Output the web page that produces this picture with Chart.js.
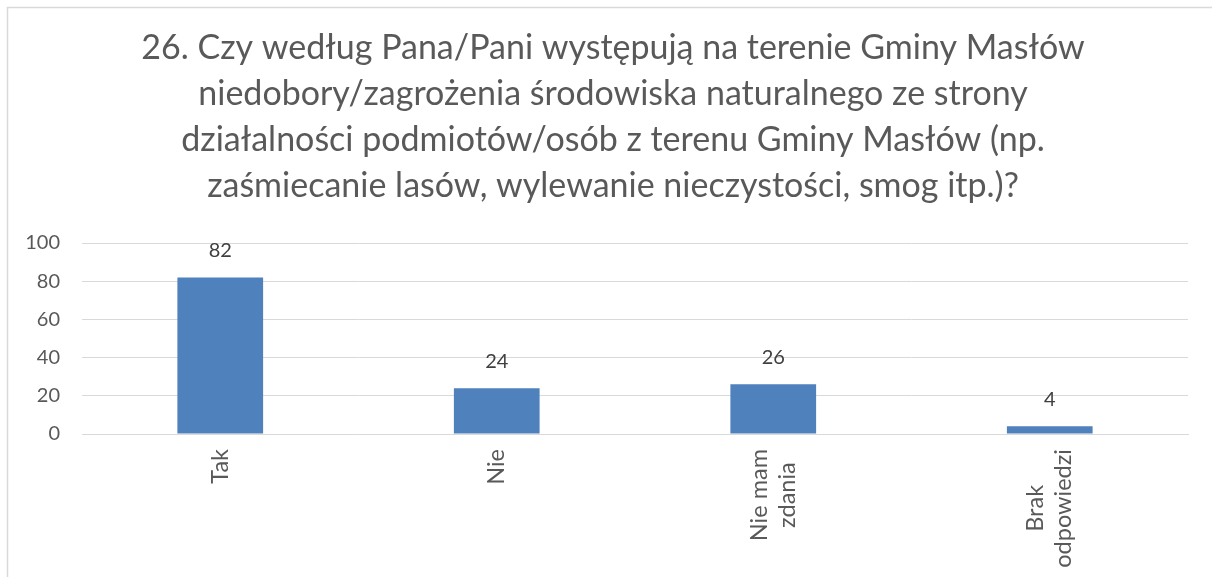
<!DOCTYPE html>
<html>
<head>
<meta charset="utf-8">
<script src="https://cdn.jsdelivr.net/npm/chart.js@4.4.0/dist/chart.umd.min.js"></script>
<style>
  html, body { margin: 0; padding: 0; background: #ffffff; }
  #wrap { position: relative; width: 1212px; height: 577px; }
</style>
</head>
<body>
<div id="wrap"><canvas id="c"></canvas></div>
<script>
const titleLines = [
  "26. Czy według Pana/Pani występują na terenie Gminy Masłów",
  "niedobory/zagrożenia środowiska naturalnego ze strony",
  "działalności podmiotów/osób z terenu Gminy Masłów (np.",
  "zaśmiecanie lasów, wylewanie nieczystości, smog itp.)?"
];
const categories = [["Tak"], ["Nie"], ["Nie mam", "zdania"], ["Brak", "odpowiedzi"]];
const values = [82, 24, 26, 4];
const yTicks = [0, 20, 40, 60, 80, 100];

const FONT = "Lato, 'Open Sans', sans-serif";

const decorPlugin = {
  id: 'decor',
  beforeDraw(chart) {
    const ctx = chart.ctx;
    ctx.save();
    ctx.strokeStyle = '#d9d9d9';
    ctx.lineWidth = 1.5;
    ctx.beginPath();
    ctx.moveTo(7.5, 700);
    ctx.lineTo(7.5, 7.5);
    ctx.lineTo(1300, 7.5);
    ctx.stroke();
    ctx.restore();
  },
  afterDatasetsDraw(chart) {
    const ctx = chart.ctx;
    const meta = chart.getDatasetMeta(0);
    const xScale = chart.scales.x;
    ctx.save();
    // data labels
    ctx.fillStyle = '#404040';
    ctx.font = "20px " + FONT;
    ctx.textAlign = 'center';
    ctx.textBaseline = 'bottom';
    meta.data.forEach((bar, i) => {
      ctx.fillText(String(values[i]), bar.x, bar.y - 17);
    });
    // category labels, rotated, centred lines
    ctx.fillStyle = '#595959';
    ctx.font = "23.5px " + FONT;
    const lh = 28;
    categories.forEach((lines, i) => {
      const x = xScale.getPixelForValue(i);
      const widths = lines.map(l => ctx.measureText(l).width);
      const maxW = Math.max(...widths);
      const topY = chart.chartArea.bottom + 15;
      ctx.save();
      ctx.translate(x, topY + maxW / 2);
      ctx.rotate(-Math.PI / 2);
      ctx.textAlign = 'center';
      ctx.textBaseline = 'middle';
      const n = lines.length;
      lines.forEach((l, k) => {
        const off = (k - (n - 1) / 2) * lh;
        ctx.fillText(l, 0, off);
      });
      ctx.restore();
    });
    ctx.restore();
  }
};

new Chart(document.getElementById('c'), {
  type: 'bar',
  data: {
    labels: categories,
    datasets: [{
      data: values,
      backgroundColor: '#4f81bd',
      borderWidth: 0,
      categoryPercentage: 1.0,
      barPercentage: 0.31
    }]
  },
  options: {
    responsive: true,
    maintainAspectRatio: false,
    animation: false,
    layout: { padding: { left: 14, right: 0, top: 0, bottom: 0 } },
    plugins: {
      legend: { display: false },
      tooltip: { enabled: false },
      title: {
        display: true,
        text: titleLines,
        color: '#595959',
        font: { family: FONT, size: 34, weight: 'normal', lineHeight: '46px' },
        padding: { top: 25, bottom: 34 }
      }
    },
    scales: {
      x: {
        grid: { display: false, drawTicks: false },
        border: { display: true, color: '#d9d9d9', width: 1 },
        ticks: { display: false },
        afterFit(s) { s.height = 143; }
      },
      y: {
        min: 0,
        max: 100,
        afterBuildTicks(s) { s.ticks = yTicks.map(v => ({ value: v })); },
        grid: { color: '#d9d9d9', drawTicks: false, lineWidth: 1 },
        border: { display: false },
        ticks: {
          color: '#595959',
          font: { family: FONT, size: 20 },
          padding: 22
        },
        afterFit(s) { s.width = 68; }
      },
      y2: {
        position: 'right',
        display: true,
        min: 0,
        max: 100,
        grid: { display: false, drawTicks: false },
        border: { display: false },
        ticks: { display: false },
        afterFit(s) { s.width = 24; }
      }
    }
  },
  plugins: [decorPlugin]
});
</script>
</body>
</html>
